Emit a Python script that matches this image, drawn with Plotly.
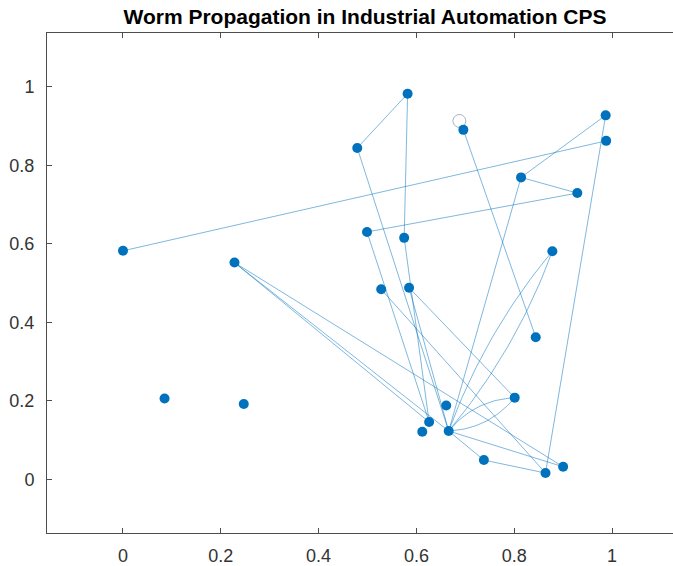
import numpy as np
import plotly.graph_objects as go

# ---- data (node positions and edges) ----
node_x = [0.000, 0.085, 0.228, 0.247, 0.479, 0.582, 0.499, 0.575, 0.528, 0.585,
          0.696, 0.987, 0.988, 0.814, 0.929, 0.878, 0.844, 0.801, 0.661, 0.626,
          0.612, 0.666, 0.738, 0.864, 0.900]
node_y = [0.582, 0.206, 0.552, 0.192, 0.844, 0.982, 0.630, 0.615, 0.484, 0.488,
          0.890, 0.927, 0.862, 0.769, 0.729, 0.581, 0.362, 0.208, 0.188, 0.146,
          0.121, 0.123, 0.049, 0.016, 0.032]
edge_src = [1, 5, 6, 8, 7, 7, 5, 3, 3, 3, 9, 10, 10, 11, 12, 14, 14, 12, 22, 23, 22]
edge_dst = [13, 6, 8, 20, 20, 15, 22, 22, 20, 25, 24, 22, 18, 17, 14, 15, 22, 24, 23, 24, 25]
multi_src = [16, 16, 22, 22]
multi_dst = [22, 22, 18, 18]
loop_nodes = [11]

x_ticks = [0, 0.2, 0.4, 0.6, 0.8, 1]
y_ticks = [0, 0.2, 0.4, 0.6, 0.8, 1]
title_text = "Worm Propagation in Industrial Automation CPS"

# ---- layout geometry ----
W, H = 673, 566
ML, MT, MB, MR = 47, 33, 30, 0
x_range = [-0.1554, 1.1247]
y_range = [-0.1367, 1.1367]
sx = (W - ML - MR) / (x_range[1] - x_range[0])
sy = (H - MT - MB) / (y_range[1] - y_range[0])

EDGE_COLOR = "rgba(0,114,189,0.5)"
LOOP_COLOR = "rgba(110,130,150,0.6)"
NODE_COLOR = "#0072BD"
AXIS_COLOR = "#4d4d4d"

ex, ey = [], []
for s, d in zip(edge_src, edge_dst):
    ex += [node_x[s - 1], node_x[d - 1], None]
    ey += [node_y[s - 1], node_y[d - 1], None]

# curved multi-edges (quadratic bezier, alternate sides)
seen = {}
t = np.linspace(0, 1, 30)
for s, d in zip(multi_src, multi_dst):
    key = (s, d)
    k = seen.get(key, 0)
    seen[key] = k + 1
    sign = 1 if k % 2 == 0 else -1
    p0 = np.array([node_x[s - 1] * sx, node_y[s - 1] * sy])
    p2 = np.array([node_x[d - 1] * sx, node_y[d - 1] * sy])
    v = p2 - p0
    L = np.hypot(*v)
    n = np.array([-v[1], v[0]]) / L
    h = min(0.11 * L, 9.0)
    c = (p0 + p2) / 2 + 2 * h * sign * n
    pts = ((1 - t)[:, None] ** 2) * p0 + (2 * (1 - t) * t)[:, None] * c + (t[:, None] ** 2) * p2
    ex += list(pts[:, 0] / sx) + [None]
    ey += list(pts[:, 1] / sy) + [None]

# self loops
lx, ly = [], []
th = np.linspace(0, 2 * np.pi, 60)
for nd in loop_nodes:
    cx = node_x[nd - 1] * sx - 4.0
    cy = node_y[nd - 1] * sy + 9.0
    r = 6.5
    lx += list((cx + r * np.cos(th)) / sx) + [None]
    ly += list((cy + r * np.sin(th)) / sy) + [None]

fig = go.Figure()
fig.add_trace(go.Scatter(x=ex, y=ey, mode="lines",
                         line=dict(color=EDGE_COLOR, width=1.0),
                         hoverinfo="skip", showlegend=False))
fig.add_trace(go.Scatter(x=lx, y=ly, mode="lines",
                         line=dict(color=LOOP_COLOR, width=1.0),
                         hoverinfo="skip", showlegend=False))
fig.add_trace(go.Scatter(x=node_x, y=node_y, mode="markers",
                         marker=dict(color=NODE_COLOR, size=10, line=dict(width=0)),
                         showlegend=False))

font_ticks = dict(family="Arial, Liberation Sans, sans-serif", size=18, color="#333333")
axis_common = dict(showgrid=False, zeroline=False, showline=True, linecolor=AXIS_COLOR,
                   linewidth=1, mirror=False, ticks="inside", ticklen=5,
                   tickcolor=AXIS_COLOR, tickfont=font_ticks)
fig.update_layout(
    width=W, height=H,
    margin=dict(l=ML, r=MR, t=MT, b=MB),
    paper_bgcolor="white", plot_bgcolor="white",
    title=dict(text="<b>" + title_text + "</b>", x=365 / W, xref="container", xanchor="center",
               y=1 - 17 / H, yref="container", yanchor="middle",
               font=dict(family="Arial, Liberation Sans, sans-serif", size=21, color="black")),
    xaxis=dict(range=x_range, tickvals=x_ticks, ticktext=[f"{v:g}" for v in x_ticks],
               ticklabelstandoff=6, **axis_common),
    xaxis2=dict(range=x_range, tickvals=x_ticks, overlaying="x", side="top",
                showticklabels=False, **{k: v for k, v in axis_common.items() if k != "tickfont"}),
    yaxis=dict(range=y_range, tickvals=y_ticks, ticktext=[f"{v:g}" for v in y_ticks],
               ticklabelstandoff=8, **axis_common),
)
# invisible trace to activate the top axis
fig.add_trace(go.Scatter(x=[None], y=[None], xaxis="x2", yaxis="y", showlegend=False,
                         hoverinfo="skip"))
fig.write_html("out.html", config={"displayModeBar": False},
               post_script="document.body.style.margin='0';document.body.style.overflow='hidden';")
